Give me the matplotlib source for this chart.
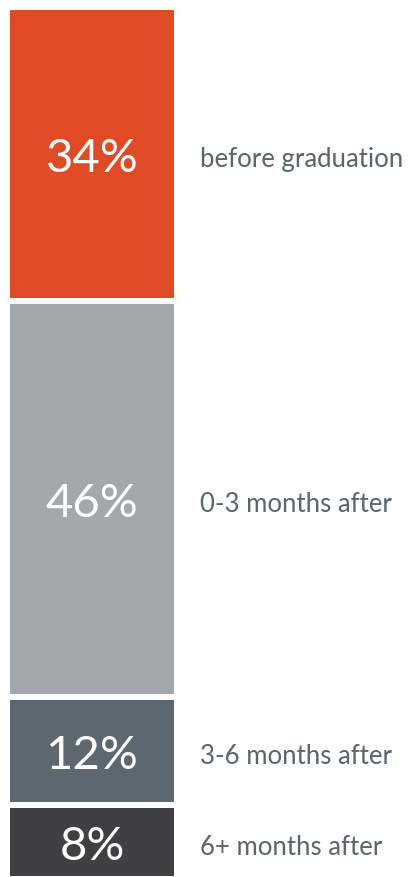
import matplotlib.pyplot as plt

# === Dane ===
shares = [34, 46, 12, 8]
labels = ["before graduation", "0-3 months after", "3-6 months after", "6+ months after"]
colors = ["#E04B25", "#A5A8AB", "#5D6770", "#404042"]

W, H = 419, 877
GAP_PX = 6
top_px, bottom_px = 10, 876
left_px, right_px = 10, 174

fig = plt.figure(figsize=(W / 100, H / 100), dpi=100)
ax = fig.add_axes([left_px / W, (H - bottom_px) / H,
                   (right_px - left_px) / W, (bottom_px - top_px) / H])

n_gaps = len(shares) - 1
axis_px = bottom_px - top_px
gap = GAP_PX * sum(shares) / (axis_px - n_gaps * GAP_PX)
total = sum(shares) + n_gaps * gap

bottom = 0
for i, (v, lab, c) in enumerate(zip(shares, labels, colors)):
    ax.bar(0, v, bottom=bottom, width=1, color=c)
    mid = bottom + v / 2
    ax.text(0, mid + 0.6, f"{v}%", ha="center", va="center", color="white",
            fontsize=34, family="Lato")
    ax.text(0.66, mid + 0.6, lab, ha="left", va="center", color="#5B656C",
            fontsize=18.5, family="Lato", clip_on=False)
    bottom += v + gap

ax.set_xlim(-0.5, 0.5)
ax.set_ylim(total, 0)
ax.axis("off")

fig.savefig("out.png", dpi=100)
